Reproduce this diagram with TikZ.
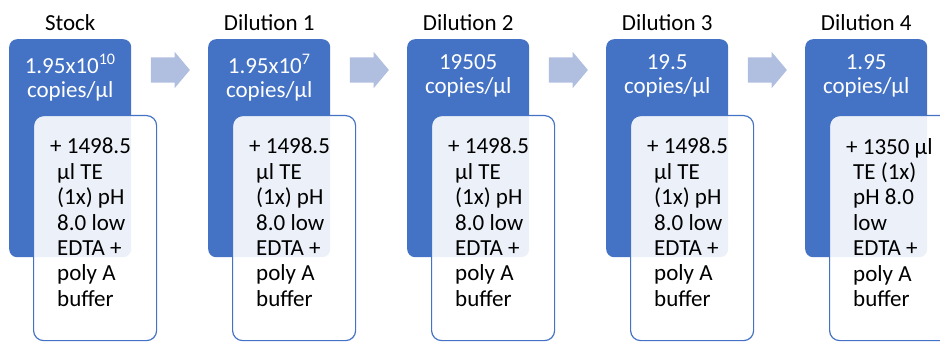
\documentclass[tikz,border=0pt]{standalone}
\usepackage{fontspec}
\setmainfont{Carlito}
\usetikzlibrary{shapes.arrows,positioning,calc}
\definecolor{ablue}{HTML}{4472C4}
\definecolor{arrowblue}{RGB}{176,190,224}
\newcommand{\hangln}{\hspace*{7pt}}

\begin{document}
\begin{tikzpicture}[x=1pt,y=-1pt,
    every node/.style={font=\fontsize{23}{25.4}\selectfont, inner sep=0pt},
    concbox/.style={fill=ablue, rounded corners=8pt, minimum width=122pt, minimum height=218pt, anchor=north west},
    addbox/.style={draw=ablue, line width=1.2pt, fill=white, fill opacity=0.9, rounded corners=10pt, minimum width=123pt, minimum height=225pt, anchor=north west},
    stepname/.style={anchor=base},
    conctext/.style={text=white, align=center, anchor=north, font=\fontsize{23}{24}\selectfont},
    addtext/.style={text=black, align=left, anchor=north west},
    steparrow/.style={single arrow, fill=arrowblue, anchor=tail, inner xsep=0pt, inner ysep=12.5pt, minimum height=39pt, single arrow head extend=5.5pt, single arrow head indent=0pt, single arrow tip angle=100}]
  \clip (0,0) rectangle (940,342);
  \foreach \i/\ttl/\cn/\ad in {
      0/Stock/{1.95x10\textsuperscript{10}}/{+ 1498.5\\\hangln µl TE\\\hangln (1x) pH\\\hangln 8.0 low\\\hangln EDTA +\\\hangln poly A\\\hangln buffer},
      1/Dilution 1/{1.95x10\textsuperscript{7}}/{+ 1498.5\\\hangln µl TE\\\hangln (1x) pH\\\hangln 8.0 low\\\hangln EDTA +\\\hangln poly A\\\hangln buffer},
      2/Dilution 2/{19505}/{+ 1498.5\\\hangln µl TE\\\hangln (1x) pH\\\hangln 8.0 low\\\hangln EDTA +\\\hangln poly A\\\hangln buffer},
      3/Dilution 3/{19.5}/{+ 1498.5\\\hangln µl TE\\\hangln (1x) pH\\\hangln 8.0 low\\\hangln EDTA +\\\hangln poly A\\\hangln buffer},
      4/Dilution 4/{1.95}/{+ 1350 µl\\\hangln TE (1x)\\\hangln pH 8.0\\\hangln low\\\hangln EDTA +\\\hangln poly A\\\hangln buffer}}{
    \node[concbox] (b\i) at (9+199*\i,39) {};
    \node[stepname] (h\i) at ([yshift=8pt]b\i.north) {\ttl};
    \node[conctext] (c\i) at ([yshift=-15pt]b\i.north) {\cn\\copies/µl};
    \node[addbox] (w\i) at ([xshift=24pt,yshift=-76pt]b\i.north west) {};
    \node[addtext] (t\i) at ([xshift=17pt,yshift=-23pt]w\i.north west) {\ad};
  }
  % arrows between the steps
  \foreach \i/\j in {0/1,1/2,2/3,3/4}
    \node[steparrow] (a\i) at ($(b\i.north east)!0.5!(b\j.north west)+(-19,31)$) {};
\end{tikzpicture}
\end{document}
